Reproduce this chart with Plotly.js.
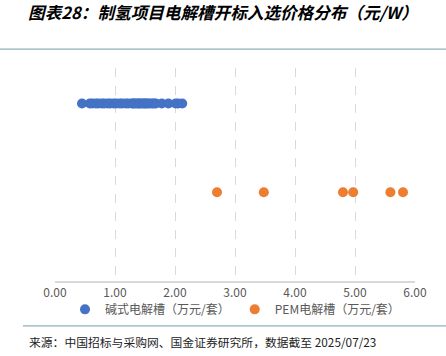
<!DOCTYPE html>
<html>
<head>
<meta charset="utf-8">
<script src="https://cdn.plot.ly/plotly-3.0.1.min.js"></script>
<style>html,body{margin:0;padding:0;background:#fff;}#chart{width:446px;height:356px;}</style>
</head>
<body>
<div id="chart"></div>
<script>
// Data
const alkalineName = "碱式电解槽（万元/套）";
const pemName = "PEM电解槽（万元/套）";
const alkalinePrices = [0.45, 0.58, 0.62, 0.68, 0.72, 0.78, 0.82, 0.88, 0.92, 0.98, 1.02, 1.08, 1.12, 1.18, 1.22, 1.28, 1.30, 1.32, 1.35, 1.38, 1.40, 1.42, 1.45, 1.48, 1.50, 1.52, 1.55, 1.58, 1.62, 1.65, 1.68, 1.78, 1.89, 2.01, 2.05, 2.12];
const alkalineRow = alkalinePrices.map(() => 2);
const pemPrices = [2.70, 3.48, 4.80, 4.97, 5.59, 5.80];
const pemRow = pemPrices.map(() => 1);
const xTicks = [0, 1, 2, 3, 4, 5, 6];
const titleText = "图表28：制氢项目电解槽开标入选价格分布（元/W）";
const sourceText = "来源：中国招标与采购网、国金证券研究所，数据截至 2025/07/23";

const font = "'Noto Sans CJK SC', 'Noto Sans', sans-serif";

const traces = [
  {type: "scatter", mode: "markers", name: alkalineName, x: alkalinePrices, y: alkalineRow,
   marker: {color: "#4472C4", size: 10}},
  {type: "scatter", mode: "markers", name: pemName, x: pemPrices, y: pemRow,
   marker: {color: "#ED7D31", size: 10}}
];

const layout = {
  width: 446, height: 356,
  margin: {l: 55, r: 31, t: 68, b: 75},
  paper_bgcolor: "#fff", plot_bgcolor: "#fff",
  font: {family: font, size: 11, color: "#595959"},
  title: {text: "<b><i>" + titleText + "</i></b>", x: 0.063, xanchor: "left", xref: "container",
          y: 0.962, yanchor: "middle", yref: "container",
          font: {family: font, size: 16.6, color: "#000"}},
  xaxis: {range: [0, 6], tickvals: xTicks, tickformat: ".2f", showgrid: true,
          gridcolor: "#D9D9D9", griddash: "dash", gridwidth: 1,
          zeroline: false, showline: true, linecolor: "#D9D9D9", linewidth: 1.5,
          ticks: "", tickfont: {size: 12, color: "#595959"}, fixedrange: true},
  yaxis: {range: [0, 2.4], showgrid: false, zeroline: false, showticklabels: false,
          showline: false, ticks: "", fixedrange: true},
  showlegend: true,
  legend: {orientation: "h", x: 0.5, xanchor: "center", y: -0.065, yanchor: "top",
           font: {size: 12, color: "#595959"}, itemwidth: 30, tracegroupgap: 0,
           bgcolor: "rgba(0,0,0,0)"},
  shapes: [
    {type: "line", xref: "paper", yref: "paper", x0: -0.153, x1: 1.086, y0: 1.089, y1: 1.089,
     line: {color: "#8FAFBC", width: 1.2}},
    {type: "line", xref: "paper", yref: "paper", x0: -0.089, x1: 1.086, y0: -0.211, y1: -0.211,
     line: {color: "#8FAFBC", width: 1.2}}
  ],
  annotations: [
    {text: sourceText, xref: "paper", yref: "paper", x: -0.078, y: -0.282, xanchor: "left",
     yanchor: "middle", showarrow: false, font: {family: font, size: 11.8, color: "#222"}}
  ]
};

Plotly.newPlot("chart", traces, layout, {displayModeBar: false, staticPlot: true});
</script>
</body>
</html>
